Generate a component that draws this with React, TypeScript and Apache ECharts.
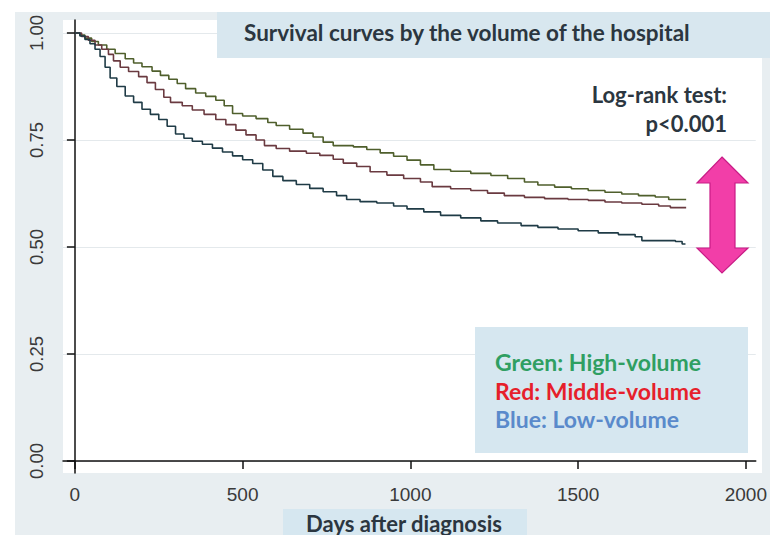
import React, { useEffect, useRef } from "react";
import * as echarts from "echarts";

const xTicks = [0, 500, 1000, 1500, 2000];
const yTicks = [0, 0.25, 0.5, 0.75, 1.0];

const highDays = [0, 15, 30, 50, 70, 95, 120, 150, 175, 200, 230, 255, 280, 305, 330, 360, 390, 420, 445, 470, 500, 540, 575, 600, 640, 680, 710, 740, 770, 830, 870, 910, 950, 990, 1030, 1070, 1120, 1180, 1240, 1290, 1340, 1380, 1430, 1480, 1530, 1580, 1630, 1680, 1730, 1770, 1822];
const highSurv = [1.0, 0.995, 0.988, 0.98, 0.972, 0.962, 0.952, 0.94, 0.93, 0.921, 0.911, 0.901, 0.892, 0.882, 0.87, 0.86, 0.852, 0.843, 0.83, 0.812, 0.806, 0.8, 0.791, 0.784, 0.775, 0.766, 0.757, 0.745, 0.737, 0.734, 0.728, 0.72, 0.712, 0.703, 0.692, 0.681, 0.677, 0.672, 0.667, 0.66, 0.652, 0.645, 0.64, 0.636, 0.632, 0.628, 0.624, 0.62, 0.617, 0.611, 0.611];

const midDays = [0, 20, 40, 60, 80, 100, 115, 135, 160, 190, 215, 240, 265, 285, 320, 350, 385, 420, 450, 480, 510, 540, 565, 600, 640, 690, 730, 770, 800, 840, 880, 930, 980, 1030, 1065, 1120, 1180, 1230, 1280, 1340, 1400, 1470, 1530, 1580, 1630, 1690, 1740, 1775, 1822];
const midSurv = [1.0, 0.992, 0.983, 0.972, 0.962, 0.95, 0.935, 0.92, 0.91, 0.898, 0.884, 0.868, 0.85, 0.838, 0.83, 0.82, 0.81, 0.798, 0.786, 0.773, 0.762, 0.75, 0.737, 0.73, 0.724, 0.719, 0.714, 0.705, 0.696, 0.688, 0.676, 0.668, 0.66, 0.652, 0.641, 0.636, 0.632, 0.626, 0.62, 0.616, 0.613, 0.611, 0.609, 0.605, 0.603, 0.6, 0.596, 0.592, 0.592];

const lowDays = [0, 15, 30, 45, 60, 75, 90, 105, 125, 150, 175, 200, 225, 250, 275, 300, 325, 350, 380, 410, 440, 470, 500, 530, 560, 590, 620, 660, 700, 740, 780, 810, 850, 900, 950, 990, 1040, 1090, 1150, 1210, 1260, 1330, 1380, 1440, 1500, 1560, 1620, 1670, 1690, 1790, 1810, 1820];
const lowSurv = [1.0, 0.993, 0.985, 0.975, 0.962, 0.945, 0.92, 0.895, 0.875, 0.853, 0.838, 0.822, 0.81, 0.798, 0.782, 0.764, 0.754, 0.747, 0.74, 0.731, 0.722, 0.713, 0.704, 0.695, 0.68, 0.665, 0.655, 0.646, 0.637, 0.629, 0.62, 0.611, 0.606, 0.603, 0.596, 0.589, 0.582, 0.574, 0.568, 0.561, 0.556, 0.55, 0.546, 0.542, 0.538, 0.533, 0.529, 0.524, 0.515, 0.513, 0.507, 0.507];

const seriesNames = ["High-volume", "Middle-volume", "Low-volume"];
const lineColors = ["#4f5f2c", "#6a3a40", "#1f3b46"];

const titleText = "Survival curves by the volume of the hospital";
const xTitle = "Days after diagnosis";
const testLines = ["Log-rank test:", "p<0.001"];
const legendLines = ["Green: High-volume", "Red: Middle-volume", "Blue: Low-volume"];
const legendColors = ["#2f9f62", "#e61f2b", "#5a8acb"];

const zip = (xs: number[], ys: number[]) => xs.map((x, i) => [x, ys[i]]);

export default function App() {
  const ref = useRef<HTMLDivElement>(null);
  useEffect(() => {
    if (!ref.current) return;
    const chart = echarts.init(ref.current, null, { renderer: "svg" });
    const boldFont = "Lato";
    const dark = "#2b3640";
    const data = [zip(highDays, highSurv), zip(midDays, midSurv), zip(lowDays, lowSurv)];
    chart.setOption({
      animation: false,
      backgroundColor: "#ffffff",
      grid: { left: 63, right: 8, top: 20, bottom: 62, containLabel: false },
      xAxis: {
        type: "value",
        min: -35.45,
        max: 2029.5,
        axisLine: { show: true, lineStyle: { color: "#111", width: 1.5 } },
        axisTick: { show: true, inside: false, length: 8, customValues: xTicks, lineStyle: { color: "#111", width: 1.5 } },
        axisLabel: {
          customValues: xTicks,
          margin: 12,
          color: "#3a3a3a",
          fontFamily: "Liberation Sans",
          fontSize: 19,
          formatter: (v: number) => String(v),
        },
        splitLine: { show: false },
      },
      yAxis: {
        type: "value",
        min: -0.028,
        max: 1.0304,
        axisLine: { show: true, lineStyle: { color: "#111", width: 1.5 } },
        axisTick: { show: true, inside: false, length: 8, customValues: yTicks, lineStyle: { color: "#111", width: 1.5 } },
        axisLabel: {
          customValues: yTicks,
          margin: 17,
          rotate: 90,
          color: "#3a3a3a",
          fontFamily: "Liberation Sans",
          fontSize: 18.5,
          formatter: (v: number) => v.toFixed(2),
        },
        splitLine: { show: true, lineStyle: { color: "#e4e9ec", width: 1 } },
      },
      graphic: [
        { type: "rect", z: -20, silent: true, shape: { x: 15, y: 12, width: 755, height: 523 }, style: { fill: "#e8eef1" } },
        { type: "rect", z: -19, silent: true, shape: { x: 63, y: 20, width: 699, height: 453 }, style: { fill: "#ffffff" } },
        { type: "rect", z: 10, silent: true, shape: { x: 217, y: 12, width: 553, height: 46 }, style: { fill: "#d8e7ef" } },
        {
          type: "text", z: 11, silent: true, x: 244, y: 32,
          style: { text: titleText, fill: dark, font: `bold 22.5px ${boldFont}`, verticalAlign: "middle" },
        },
        {
          type: "text", z: 11, silent: true, x: 727, y: 94,
          style: { text: testLines[0], fill: dark, font: `bold 22px ${boldFont}`, align: "right", verticalAlign: "middle" },
        },
        {
          type: "text", z: 11, silent: true, x: 727, y: 123,
          style: { text: testLines[1], fill: dark, font: `bold 22px ${boldFont}`, align: "right", verticalAlign: "middle" },
        },
        {
          type: "polygon", z: 11, silent: true,
          shape: {
            points: [[722, 157], [748, 183], [735, 183], [735, 248], [748, 248], [722, 273], [697, 248], [710, 248], [710, 183], [697, 183]],
          },
          style: { fill: "#f23ea8", stroke: "#c81c86", lineWidth: 1.2 },
        },
        { type: "rect", z: 10, silent: true, shape: { x: 475, y: 327, width: 273, height: 126 }, style: { fill: "#d6e7f0" } },
        ...legendLines.map((t, i) => ({
          type: "text", z: 11, silent: true, x: 495, y: 362 + i * 28.5,
          style: { text: t, fill: legendColors[i], font: `bold 23px ${boldFont}`, verticalAlign: "middle" },
        })),
        { type: "rect", z: 10, silent: true, shape: { x: 283, y: 509, width: 244, height: 26 }, style: { fill: "#d6e7f0" } },
        {
          type: "text", z: 11, silent: true, x: 404, y: 523,
          style: { text: xTitle, fill: dark, font: `bold 22px ${boldFont}`, align: "center", verticalAlign: "middle" },
        },
      ],
      series: data.map((d, i) => ({
        name: seriesNames[i],
        type: "line",
        step: "end",
        data: d,
        showSymbol: false,
        symbol: "none",
        lineStyle: { color: lineColors[i], width: 1.6 },
        z: 3,
      })),
    });
    return () => chart.dispose();
  }, []);
  return <div ref={ref} style={{ position: "fixed", left: 0, top: 0, width: 770, height: 535 }} />;
}
